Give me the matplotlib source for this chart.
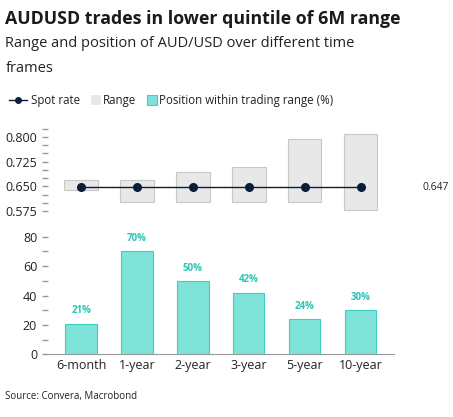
import numpy as np
import matplotlib.pyplot as plt
from matplotlib.patches import Rectangle

plt.rcParams['font.family'] = ['Open Sans', 'DejaVu Sans']

periods = ["6-month", "1-year", "2-year", "3-year", "5-year", "10-year"]
range_lo = [0.640, 0.602, 0.602, 0.602, 0.602, 0.578]
range_hi = [0.668, 0.668, 0.695, 0.710, 0.795, 0.810]
spot = 0.647
position = [21, 70, 50, 42, 24, 30]

navy = "#0b1f3a"
teal = "#7fe3da"
teal_edge = "#3fcfc0"
teal_text = "#2ec4b6"
grey = "#e8e8e8"
grey_edge = "#c8c8c8"

fig = plt.figure(figsize=(4.53, 4.17), dpi=100)
fig.text(0.012, 0.955, "AUDUSD trades in lower quintile of 6M range", fontsize=12.8,
         fontweight="bold", color="#1a1a1a", va="center")
fig.text(0.012, 0.895, "Range and position of AUD/USD over different time", fontsize=10.5,
         color="#222222", va="center")
fig.text(0.012, 0.835, "frames", fontsize=10.5, color="#222222", va="center")
fig.text(0.012, 0.05, "Source: Convera, Macrobond", fontsize=7, color="#222222", va="center")

# legend
ly = 0.76
fig.lines.append(plt.Line2D([0.02, 0.06], [ly, ly], color=navy, lw=1, transform=fig.transFigure))
fig.lines.append(plt.Line2D([0.04], [ly], marker="o", ms=4, color=navy, transform=fig.transFigure))
fig.text(0.068, ly, "Spot rate", fontsize=8.3, va="center", color="#222222")
fig.patches.append(Rectangle((0.2, ly - 0.012), 0.022, 0.024, transform=fig.transFigure,
                             facecolor=grey, edgecolor="none"))
fig.text(0.228, ly, "Range", fontsize=8.3, va="center", color="#222222")
fig.patches.append(Rectangle((0.325, ly - 0.012), 0.022, 0.024, transform=fig.transFigure,
                             facecolor=teal, edgecolor=teal_edge, lw=0.8))
fig.text(0.352, ly, "Position within trading range (%)", fontsize=8.3, va="center", color="#222222")

x = np.arange(len(periods))
ax1 = fig.add_axes([0.105, 0.49, 0.765, 0.205])
ax1.bar(x, np.array(range_hi) - np.array(range_lo), bottom=range_lo, width=0.6,
        color=grey, edgecolor=grey_edge, lw=0.8)
ax1.plot(x, [spot] * len(x), color=navy, lw=1, marker="o", ms=5.5)
ax1.set_ylim(0.57, 0.83)
ax1.set_xlim(-0.6, 5.6)
ax1.set_yticks([0.575, 0.65, 0.725, 0.8])
ax1.set_yticklabels(["0.575", "0.650", "0.725", "0.800"])
ax1.set_yticks(np.arange(0.575, 0.83, 0.025), minor=True)
ax1.text(6.1, spot, "0.647", fontsize=7.5, va="center", color="#222222")
ax1.set_xticks([])

ax2 = fig.add_axes([0.105, 0.15, 0.765, 0.3])
ax2.bar(x, position, width=0.56, color=teal, edgecolor=teal_edge, lw=0.8)
for xi, v in zip(x, position):
    ax2.text(xi, v + 5, f"{v}%", ha="center", va="bottom", fontsize=7,
             fontweight="bold", color=teal_text)
ax2.set_ylim(0, 85)
ax2.set_xlim(-0.6, 5.6)
ax2.set_yticks([0, 20, 40, 60, 80])
ax2.set_yticks(np.arange(0, 85, 10), minor=True)
ax2.set_xticks(x)
ax2.set_xticklabels(periods)

for ax in (ax1, ax2):
    for s in ("top", "right", "bottom", "left"):
        ax.spines[s].set_visible(False)
    ax.tick_params(axis="y", which="both", length=4, color="#999999", labelsize=9,
                   labelcolor="#222222", width=1)
    ax.tick_params(axis="x", length=0, labelsize=9, labelcolor="#222222")
ax2.spines["bottom"].set_visible(True)
ax2.spines["bottom"].set_color("#999999")

fig.savefig("out.png", dpi=100)
